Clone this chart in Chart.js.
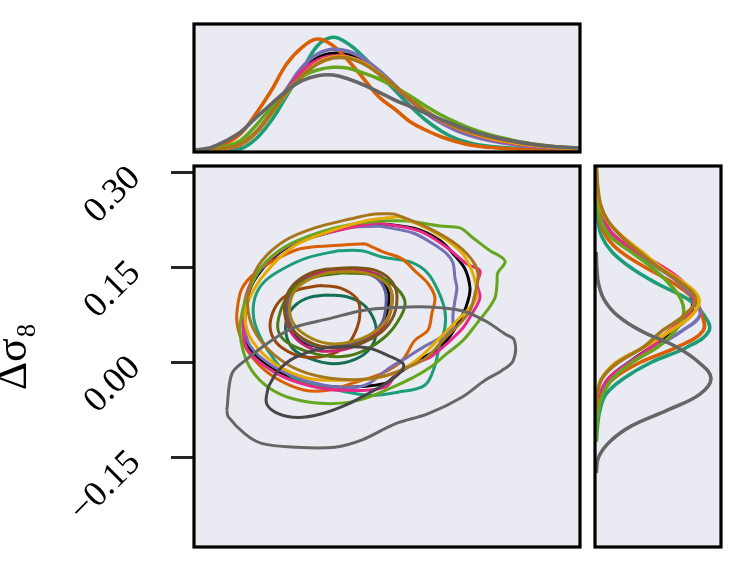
<!DOCTYPE html>
<html><head><meta charset="utf-8">
<script src="https://cdn.jsdelivr.net/npm/chart.js@4.4.1/dist/chart.umd.min.js"></script>
<style>
html,body{margin:0;padding:0;background:#fff;}
#wrap{position:relative;width:747px;height:573px;overflow:hidden;}
#wrap canvas{position:absolute;left:0;top:0;}
</style></head><body>
<div id="wrap">
<canvas id="main" width="747" height="573"></canvas>
<canvas id="top" width="747" height="573"></canvas>
<canvas id="right" width="747" height="573"></canvas>
</div>
<script>
// ---------- axis ticks ----------
const yTickValues = [-0.15, 0.0, 0.15, 0.30];
const yTickLabels = ['\u22120.15', '0.00', '0.15', '0.30'];
const yTitle = '\u0394\u03c3\u2088';

// ---------- series ----------
const seriesNames = ['black','teal','orange','purple','pink','green','yellow','brown','gray'];
const seriesColors = ['#000000','#1b9e77','#d95f02','#7570b3','#e7298a','#66a61e','#e6ab02','#a6761d','#666666'];
const innerColors  = ['#000000','#136e53','#9a470c','#5f5a9a','#c2246f','#4a7a14','#a9820f','#7a5516','#474747'];

// ---------- top marginal (density vs x) ----------
const gridX = [0,0.04,0.08,0.12,0.16,0.20,0.24,0.28,0.32,0.36,0.40,0.44,0.48,0.52,0.56,0.60,0.64,0.68,0.72,0.76,0.80,0.84,0.88,0.92,0.96,1.00];
const topBlack  = [0,0,0.012,0.05,0.17,0.365,0.60,0.80,0.92,0.965,0.95,0.88,0.77,0.64,0.50,0.38,0.285,0.215,0.16,0.115,0.082,0.057,0.04,0.027,0.018,0.012];
const topTeal   = [0,0,0,0.01,0.11,0.293,0.543,0.793,1.043,1.127,1.06,0.927,0.76,0.60,0.44,0.30,0.19,0.11,0.065,0.04,0.025,0.015,0.01,0.005,0.003,0.002];
const topOrange = [0,0.01,0.06,0.16,0.36,0.593,0.86,1.027,1.11,1.043,0.893,0.71,0.527,0.41,0.283,0.20,0.133,0.083,0.047,0.027,0.017,0.007,0.004,0.002,0.001,0];
const topPurple = [0,0,0.013,0.053,0.177,0.377,0.61,0.827,0.96,1.007,0.987,0.91,0.793,0.65,0.50,0.37,0.27,0.195,0.14,0.10,0.07,0.048,0.032,0.022,0.015,0.01];
const topPink   = [0,0,0.012,0.05,0.17,0.365,0.595,0.79,0.90,0.94,0.93,0.87,0.76,0.63,0.50,0.38,0.29,0.22,0.165,0.12,0.085,0.06,0.04,0.027,0.018,0.012];
const topGreen  = [0,0.003,0.033,0.093,0.243,0.427,0.593,0.733,0.80,0.827,0.817,0.767,0.71,0.63,0.54,0.44,0.35,0.275,0.21,0.16,0.12,0.085,0.06,0.04,0.025,0.015];
const topYellow = [0,0,0.015,0.055,0.17,0.36,0.57,0.74,0.87,0.93,0.925,0.87,0.765,0.64,0.51,0.39,0.295,0.225,0.17,0.125,0.092,0.065,0.045,0.03,0.02,0.013];
const topBrown  = [0,0,0.017,0.06,0.177,0.367,0.577,0.743,0.86,0.92,0.917,0.86,0.76,0.64,0.51,0.39,0.30,0.23,0.177,0.135,0.103,0.075,0.055,0.037,0.027,0.02];
const topGray   = [0,0.02,0.087,0.177,0.32,0.46,0.593,0.693,0.743,0.75,0.71,0.65,0.577,0.50,0.435,0.37,0.305,0.245,0.19,0.145,0.11,0.08,0.055,0.038,0.027,0.02];

// ---------- right marginal (density vs delta sigma8); null = outside the curve ----------
const gridY = [0.311,0.300,0.275,0.250,0.225,0.200,0.175,0.150,0.125,0.100,0.075,0.050,0.025,0.000,-0.025,-0.050,-0.075,-0.100,-0.125,-0.150,-0.175];
const rightBlack  = [0.002,0.003,0.008,0.03,0.075,0.185,0.40,0.66,0.87,0.96,0.94,0.76,0.56,0.33,0.13,0.045,0.01,0.002,null,null,null];
const rightTeal   = [0.002,0.003,0.006,0.01,0.02,0.055,0.16,0.35,0.61,0.92,1.08,1.13,0.92,0.55,0.28,0.10,0.04,0.015,0.004,null,null];
const rightOrange = [0.002,0.003,0.006,0.015,0.04,0.10,0.25,0.50,0.78,0.98,1.06,1.07,0.82,0.44,0.18,0.05,0.015,0.003,null,null,null];
const rightPurple = [0.002,0.003,0.008,0.03,0.075,0.18,0.38,0.62,0.84,0.98,1.04,0.86,0.60,0.33,0.13,0.04,0.01,0.002,null,null,null];
const rightPink   = [0.002,0.003,0.008,0.03,0.075,0.185,0.405,0.68,0.885,0.98,0.92,0.73,0.56,0.34,0.13,0.045,0.01,0.002,null,null,null];
const rightGreen  = [0.002,0.003,0.006,0.012,0.05,0.14,0.35,0.56,0.73,0.85,0.875,0.79,0.62,0.36,0.17,0.07,0.025,0.007,0.002,null,null];
const rightYellow = [0.003,0.005,0.01,0.04,0.11,0.26,0.46,0.65,0.89,1.03,0.96,0.74,0.49,0.20,0.06,0.013,0.002,null,null,null,null];
const rightBrown  = [0.003,0.005,0.02,0.045,0.115,0.25,0.43,0.63,0.86,0.995,0.885,0.66,0.48,0.22,0.06,0.015,0.002,null,null,null,null];
const rightGray   = [null,null,null,null,null,null,0.002,0.008,0.025,0.08,0.21,0.45,0.80,1.03,1.15,1.04,0.72,0.36,0.14,0.025,0.003];

// ---------- 2D contours [x, delta sigma8] ----------
const blackOuter = [[0.469,0.221],[0.572,0.212],[0.637,0.193],[0.676,0.169],[0.702,0.148],[0.715,0.118],[0.710,0.098],[0.697,0.077],[0.668,0.046],[0.637,0.024],[0.567,-0.002],[0.521,-0.021],[0.495,-0.033],[0.383,-0.039],[0.295,-0.032],[0.210,-0.011],[0.145,0.022],[0.132,0.055],[0.137,0.098],[0.155,0.129],[0.197,0.161],[0.259,0.188],[0.344,0.205],[0.417,0.216]];
const blackInner = [[0.352,0.145],[0.425,0.145],[0.477,0.136],[0.503,0.114],[0.503,0.090],[0.490,0.063],[0.451,0.041],[0.391,0.027],[0.321,0.025],[0.267,0.039],[0.241,0.066],[0.238,0.095],[0.256,0.120],[0.298,0.137]];
const tealOuter = [[0.373,0.177],[0.435,0.177],[0.487,0.167],[0.565,0.158],[0.606,0.141],[0.632,0.114],[0.650,0.082],[0.650,0.055],[0.637,0.030],[0.624,-0.005],[0.598,-0.036],[0.528,-0.047],[0.456,-0.052],[0.373,-0.044],[0.300,-0.033],[0.249,-0.021],[0.210,0.003],[0.176,0.035],[0.155,0.069],[0.158,0.103],[0.184,0.129],[0.236,0.150],[0.295,0.166]];
const tealInner = [[0.344,0.107],[0.396,0.104],[0.438,0.092],[0.464,0.071],[0.472,0.047],[0.456,0.022],[0.417,0.005],[0.360,-0.002],[0.301,0.006],[0.256,0.022],[0.238,0.047],[0.243,0.074],[0.267,0.093],[0.300,0.103]];
const orangeOuter = [[0.443,0.188],[0.495,0.174],[0.539,0.164],[0.572,0.145],[0.606,0.125],[0.624,0.103],[0.616,0.077],[0.606,0.051],[0.572,0.035],[0.539,0.003],[0.487,-0.017],[0.409,-0.033],[0.347,-0.044],[0.287,-0.044],[0.210,-0.024],[0.158,0.003],[0.124,0.035],[0.111,0.066],[0.114,0.093],[0.124,0.117],[0.150,0.137],[0.197,0.158],[0.275,0.180],[0.365,0.185]];
const orangeInner = [[0.326,0.122],[0.378,0.118],[0.422,0.101],[0.430,0.079],[0.422,0.054],[0.396,0.027],[0.345,0.011],[0.282,0.009],[0.231,0.022],[0.202,0.043],[0.199,0.069],[0.223,0.098],[0.269,0.115]];
const purpleOuter = [[0.482,0.216],[0.567,0.205],[0.619,0.188],[0.655,0.172],[0.671,0.158],[0.676,0.134],[0.681,0.118],[0.676,0.098],[0.671,0.077],[0.668,0.055],[0.637,0.039],[0.593,0.024],[0.552,0.008],[0.508,-0.008],[0.443,-0.036],[0.373,-0.039],[0.287,-0.028],[0.205,-0.006],[0.145,0.027],[0.130,0.066],[0.137,0.106],[0.166,0.142],[0.218,0.174],[0.287,0.196],[0.378,0.212]];
const purpleInner = [[0.357,0.144],[0.425,0.144],[0.472,0.134],[0.495,0.114],[0.497,0.088],[0.487,0.063],[0.451,0.041],[0.391,0.027],[0.326,0.025],[0.275,0.039],[0.246,0.066],[0.243,0.095],[0.262,0.120],[0.303,0.136]];
const pinkOuter = [[0.477,0.221],[0.585,0.208],[0.655,0.182],[0.707,0.156],[0.741,0.145],[0.733,0.125],[0.741,0.103],[0.720,0.077],[0.697,0.055],[0.655,0.030],[0.611,0.008],[0.567,-0.002],[0.526,-0.017],[0.495,-0.039],[0.383,-0.044],[0.295,-0.036],[0.210,-0.016],[0.140,0.019],[0.127,0.055],[0.132,0.098],[0.150,0.129],[0.192,0.161],[0.254,0.188],[0.339,0.204],[0.417,0.215]];
const pinkInner = [[0.352,0.145],[0.420,0.147],[0.477,0.139],[0.508,0.118],[0.513,0.093],[0.497,0.063],[0.456,0.038],[0.391,0.021],[0.321,0.019],[0.269,0.035],[0.241,0.062],[0.236,0.093],[0.254,0.120],[0.295,0.137]];
const greenOuter = [[0.482,0.224],[0.552,0.224],[0.637,0.216],[0.689,0.213],[0.723,0.197],[0.767,0.177],[0.798,0.166],[0.806,0.158],[0.787,0.142],[0.785,0.125],[0.780,0.103],[0.759,0.082],[0.733,0.062],[0.697,0.035],[0.655,0.014],[0.611,-0.008],[0.567,-0.024],[0.515,-0.039],[0.425,-0.060],[0.339,-0.065],[0.254,-0.057],[0.192,-0.039],[0.150,-0.013],[0.127,0.019],[0.119,0.051],[0.124,0.077],[0.140,0.111],[0.176,0.152],[0.236,0.183],[0.321,0.205],[0.404,0.218]];
const greenInner = [[0.386,0.142],[0.474,0.137],[0.526,0.117],[0.547,0.093],[0.526,0.063],[0.490,0.038],[0.430,0.016],[0.370,0.009],[0.301,0.016],[0.241,0.032],[0.218,0.051],[0.223,0.079],[0.249,0.111],[0.300,0.133]];
const yellowOuter = [[0.534,0.231],[0.617,0.208],[0.689,0.177],[0.720,0.145],[0.733,0.109],[0.723,0.093],[0.681,0.066],[0.637,0.039],[0.585,0.008],[0.534,-0.013],[0.469,-0.025],[0.391,-0.028],[0.295,-0.025],[0.210,-0.002],[0.150,0.035],[0.132,0.071],[0.145,0.103],[0.184,0.141],[0.254,0.182],[0.339,0.205],[0.443,0.224]];
const yellowInner = [[0.347,0.142],[0.412,0.144],[0.469,0.137],[0.505,0.120],[0.513,0.098],[0.500,0.069],[0.464,0.047],[0.409,0.033],[0.347,0.030],[0.290,0.043],[0.254,0.066],[0.249,0.095],[0.267,0.118],[0.306,0.134]];
const brownOuter = [[0.521,0.235],[0.611,0.212],[0.684,0.185],[0.725,0.158],[0.736,0.137],[0.728,0.109],[0.715,0.082],[0.689,0.062],[0.645,0.035],[0.603,0.008],[0.552,-0.008],[0.495,-0.021],[0.430,-0.027],[0.352,-0.025],[0.275,-0.013],[0.210,0.011],[0.163,0.043],[0.140,0.082],[0.145,0.122],[0.176,0.161],[0.236,0.193],[0.313,0.213],[0.404,0.227],[0.469,0.235]];
const brownInner = [[0.344,0.148],[0.412,0.150],[0.474,0.145],[0.515,0.126],[0.526,0.101],[0.513,0.069],[0.474,0.043],[0.412,0.027],[0.344,0.024],[0.282,0.038],[0.243,0.063],[0.236,0.095],[0.256,0.122],[0.300,0.141]];
const grayOuter = [[0.085,-0.076],[0.098,-0.018],[0.132,0.003],[0.201,0.035],[0.262,0.056],[0.348,0.069],[0.434,0.082],[0.521,0.087],[0.607,0.088],[0.694,0.082],[0.754,0.066],[0.806,0.045],[0.830,0.035],[0.827,0.003],[0.797,-0.013],[0.754,-0.028],[0.694,-0.055],[0.607,-0.081],[0.521,-0.097],[0.434,-0.123],[0.365,-0.134],[0.262,-0.134],[0.175,-0.128],[0.132,-0.113],[0.089,-0.086]];
const grayInner = [[0.192,-0.039],[0.218,-0.013],[0.262,0.008],[0.331,0.022],[0.391,0.025],[0.452,0.023],[0.503,0.011],[0.542,-0.002],[0.538,-0.013],[0.503,-0.031],[0.452,-0.049],[0.391,-0.068],[0.331,-0.081],[0.270,-0.087],[0.218,-0.081],[0.188,-0.065]];

const topSeries = [topBlack, topTeal, topOrange, topPurple, topPink, topGreen, topYellow, topBrown, topGray];
const rightSeries = [rightBlack, rightTeal, rightOrange, rightPurple, rightPink, rightGreen, rightYellow, rightBrown, rightGray];
const outerSeries = [blackOuter, tealOuter, orangeOuter, purpleOuter, pinkOuter, greenOuter, yellowOuter, brownOuter, grayOuter];
const innerSeries = [blackInner, tealInner, orangeInner, purpleInner, pinkInner, greenInner, yellowInner, brownInner, grayInner];

// ---------- helpers ----------
const BG = '#eaeaf2';
const framePlugin = {
  id: 'frame',
  beforeDraw(chart) {
    const {ctx, chartArea: a} = chart;
    ctx.save(); ctx.fillStyle = BG;
    ctx.fillRect(a.left, a.top, a.right - a.left, a.bottom - a.top);
    ctx.restore();
  },
  afterDraw(chart) {
    const {ctx, chartArea: a} = chart;
    ctx.save(); ctx.strokeStyle = '#000'; ctx.lineWidth = 3.2;
    ctx.strokeRect(a.left, a.top, a.right - a.left, a.bottom - a.top);
    ctx.restore();
  }
};
function closed(pts) { const p = pts.map(([x, y]) => ({x, y})); p.push({x: pts[0][0], y: pts[0][1]}); return p; }
function lineSet(label, data, color, width, tension) {
  return {label, data, borderColor: color, backgroundColor: color, borderWidth: width,
          tension, pointRadius: 0, pointHoverRadius: 0, fill: false, spanGaps: false};
}
function baseOpts(padding, xr, yr) {
  return {
    responsive: false, animation: false, devicePixelRatio: 1,
    layout: {padding},
    plugins: {legend: {display: false}, tooltip: {enabled: false}},
    scales: {
      x: {type: 'linear', min: xr[0], max: xr[1], display: false},
      y: {type: 'linear', min: yr[0], max: yr[1], display: false}
    }
  };
}
const Y_RANGE = [-0.292, 0.311];
const CONTOUR_W = 3.0, MARGIN_W = 3.6;

// ---------- main panel (first dataset ends up on top in Chart.js, so reverse) ----------
const mainDatasets = [];
seriesNames.forEach((n, i) => {
  mainDatasets.push(lineSet(n + ' outer', closed(outerSeries[i]), seriesColors[i], CONTOUR_W, 0.35));
  mainDatasets.push(lineSet(n + ' inner', closed(innerSeries[i]), innerColors[i], CONTOUR_W, 0.35));
});
mainDatasets.reverse();
const mainOpts = baseOpts({left: 0, top: 166, right: 167, bottom: 26}, [0, 1], Y_RANGE);
mainOpts.scales.y = {
  type: 'linear', min: Y_RANGE[0], max: Y_RANGE[1], display: true,
  afterFit(s) { s.width = 194; s.paddingTop = 0; s.paddingBottom = 0; },
  afterBuildTicks(s) { s.ticks = yTickValues.map(v => ({value: v})); },
  grid: {drawOnChartArea: false, drawTicks: true, tickLength: 23, tickWidth: 3, tickColor: '#262626', lineWidth: 3, color: '#262626'},
  border: {display: false},
  ticks: {minRotation: 45, maxRotation: 45, padding: 36, color: '#000',
          font: {family: 'Liberation Serif', size: 36},
          callback: (v) => yTickLabels[yTickValues.findIndex(t => Math.abs(t - v) < 1e-9)]},
  title: {display: true, text: yTitle, color: '#000',
          font: {family: 'Liberation Serif', size: 44, lineHeight: 0.65}, padding: {top: 0, bottom: 0}}
};
new Chart(document.getElementById('main'), {type: 'line', data: {datasets: mainDatasets}, options: mainOpts, plugins: [framePlugin]});

// ---------- top marginal ----------
const topDatasets = seriesNames.map((n, i) =>
  lineSet(n, gridX.map((x, k) => ({x, y: topSeries[i][k]})), seriesColors[i], MARGIN_W, 0.4)).reverse();
new Chart(document.getElementById('top'), {type: 'line', data: {datasets: topDatasets},
  options: baseOpts({left: 194, top: 24, right: 167, bottom: 421}, [0, 1], [-0.02, 1.26]), plugins: [framePlugin]});

// ---------- right marginal ----------
const rightDatasets = seriesNames.map((n, i) =>
  lineSet(n, gridY.map((y, k) => ({x: rightSeries[i][k], y})).filter(p => p.x !== null), seriesColors[i], MARGIN_W, 0.4)).reverse();
new Chart(document.getElementById('right'), {type: 'line', data: {datasets: rightDatasets},
  options: baseOpts({left: 595, top: 166, right: 26, bottom: 26}, [-0.01, 1.25], Y_RANGE), plugins: [framePlugin]});
</script>
</body></html>
